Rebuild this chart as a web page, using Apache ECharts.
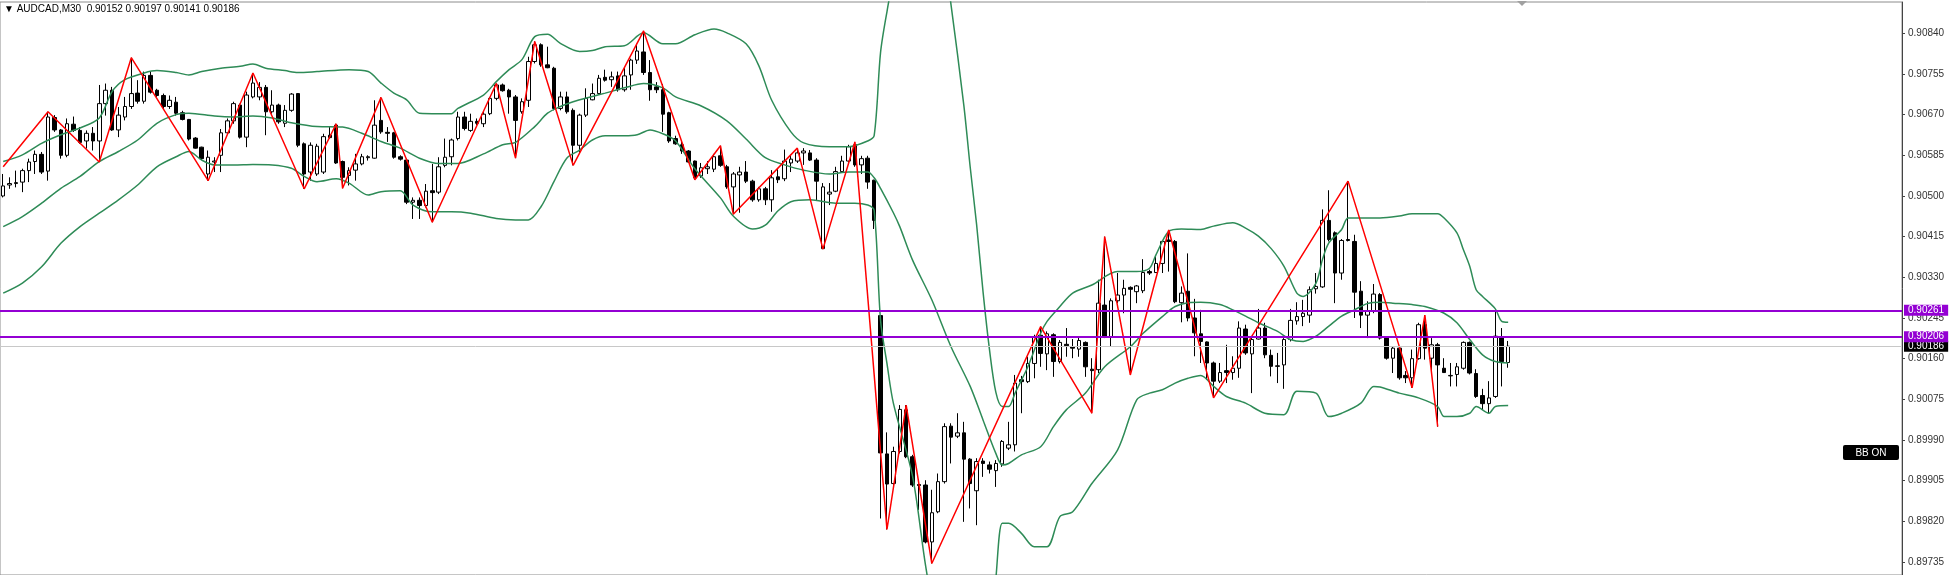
<!DOCTYPE html>
<html><head><meta charset="utf-8">
<script src="https://cdn.jsdelivr.net/npm/echarts@6/dist/echarts.min.js"></script>
<style>html,body{margin:0;padding:0;background:#fff;overflow:hidden}#c{width:1953px;height:575px}</style>
</head><body><div id="c"></div>
<script>
const headerText = '\u25BC AUDCAD,M30  0.90152 0.90197 0.90141 0.90186';
const slotCount = 297;
const categories = Array.from({length: slotCount}, (_, i) => String(i));

const opens = [0.90500,0.90523,0.90526,0.90529,0.90553,0.90572,0.90587,0.90552,0.90664,0.90638,
0.90585,0.90650,0.90637,0.90615,0.90631,0.90615,0.90693,0.90721,0.90638,0.90665,
0.90687,0.90715,0.90698,0.90752,0.90721,0.90710,0.90687,0.90696,0.90674,0.90660,
0.90621,0.90602,0.90546,0.90571,0.90585,0.90632,0.90657,0.90690,0.90623,0.90707,
0.90707,0.90727,0.90676,0.90690,0.90652,0.90679,0.90714,0.90609,0.90550,0.90546,
0.90550,0.90627,0.90648,0.90572,0.90543,0.90554,0.90567,0.90580,0.90579,0.90658,
0.90633,0.90632,0.90582,0.90575,0.90487,0.90491,0.90480,0.90511,0.90508,0.90564,
0.90582,0.90620,0.90665,0.90637,0.90656,0.90651,0.90672,0.90704,0.90732,0.90721,
0.90707,0.90676,0.90700,0.90781,0.90816,0.90774,0.90767,0.90683,0.90707,0.90679,
0.90606,0.90669,0.90701,0.90714,0.90748,0.90743,0.90751,0.90722,0.90753,0.90784,
0.90801,0.90758,0.90728,0.90722,0.90674,0.90620,0.90607,0.90594,0.90573,0.90542,
0.90557,0.90556,0.90584,0.90561,0.90519,0.90544,0.90550,0.90531,0.90492,0.90515,
0.90492,0.90540,0.90536,0.90569,0.90573,0.90590,0.90590,0.90575,0.90390,0.90504,
0.90510,0.90551,0.90573,0.90607,0.90565,0.90579,0.90533,0.90250,0.89961,0.89899,
0.89966,0.90053,0.89955,0.89897,0.89896,0.89777,0.89840,0.89903,0.90019,0.89998,
0.90005,0.89950,0.89884,0.89946,0.89938,0.89926,0.89940,0.89973,0.89980,0.90116,
0.90112,0.90150,0.90209,0.90170,0.90210,0.90154,0.90190,0.90185,0.90180,0.90194,
0.90138,0.90137,0.90272,0.90205,0.90281,0.90293,0.90309,0.90300,0.90302,0.90342,
0.90340,0.90359,0.90408,0.90405,0.90277,0.90301,0.90245,0.90212,0.90195,0.90151,
0.90113,0.90135,0.90131,0.90140,0.90222,0.90170,0.90201,0.90224,0.90167,0.90145,
0.90147,0.90200,0.90239,0.90248,0.90251,0.90306,0.90310,0.90449,0.90423,0.90339,
0.90409,0.90405,0.90301,0.90251,0.90259,0.90294,0.90203,0.90161,0.90182,0.90125,
0.90120,0.90160,0.90231,0.90161,0.90189,0.90140,0.90124,0.90127,0.90140,0.90194,
0.90129,0.90083,0.90066,0.90081,0.90205,0.90152];

const highs = [0.90546,0.90539,0.90553,0.90557,0.90578,0.90595,0.90592,0.90676,0.90669,0.90640,
0.90662,0.90666,0.90644,0.90637,0.90644,0.90732,0.90735,0.90728,0.90686,0.90707,
0.90789,0.90742,0.90760,0.90760,0.90724,0.90714,0.90710,0.90707,0.90678,0.90661,
0.90623,0.90603,0.90595,0.90581,0.90640,0.90662,0.90697,0.90693,0.90718,0.90757,
0.90738,0.90732,0.90721,0.90693,0.90690,0.90715,0.90715,0.90612,0.90612,0.90609,
0.90630,0.90644,0.90651,0.90574,0.90560,0.90588,0.90588,0.90585,0.90700,0.90706,
0.90644,0.90634,0.90585,0.90578,0.90497,0.90497,0.90525,0.90567,0.90581,0.90620,
0.90620,0.90676,0.90676,0.90672,0.90662,0.90676,0.90707,0.90735,0.90735,0.90724,
0.90711,0.90704,0.90791,0.90823,0.90819,0.90812,0.90770,0.90718,0.90718,0.90683,
0.90672,0.90725,0.90735,0.90753,0.90764,0.90760,0.90760,0.90768,0.90787,0.90818,
0.90845,0.90784,0.90738,0.90734,0.90676,0.90626,0.90615,0.90596,0.90574,0.90569,
0.90573,0.90588,0.90605,0.90565,0.90550,0.90561,0.90573,0.90534,0.90519,0.90519,
0.90554,0.90556,0.90597,0.90584,0.90600,0.90600,0.90596,0.90579,0.90527,0.90527,
0.90561,0.90584,0.90607,0.90613,0.90584,0.90584,0.90534,0.90251,0.90006,0.89976,
0.90063,0.90063,0.89959,0.89899,0.89906,0.89886,0.89920,0.90025,0.90025,0.90046,
0.90028,0.89952,0.89952,0.89952,0.89945,0.89948,0.89990,0.90028,0.90126,0.90124,
0.90164,0.90210,0.90227,0.90217,0.90213,0.90199,0.90224,0.90201,0.90205,0.90196,
0.90161,0.90325,0.90415,0.90286,0.90339,0.90325,0.90311,0.90314,0.90368,0.90346,
0.90373,0.90408,0.90429,0.90408,0.90311,0.90380,0.90285,0.90262,0.90196,0.90154,
0.90151,0.90189,0.90165,0.90238,0.90231,0.90207,0.90264,0.90235,0.90179,0.90172,
0.90203,0.90264,0.90278,0.90283,0.90311,0.90339,0.90472,0.90512,0.90426,0.90410,
0.90531,0.90419,0.90322,0.90280,0.90316,0.90297,0.90207,0.90186,0.90186,0.90134,
0.90179,0.90235,0.90251,0.90203,0.90193,0.90161,0.90151,0.90151,0.90196,0.90196,
0.90138,0.90097,0.90113,0.90262,0.90224,0.90197];

const lows = [0.90497,0.90515,0.90518,0.90508,0.90529,0.90546,0.90546,0.90532,0.90634,0.90578,
0.90581,0.90634,0.90609,0.90599,0.90595,0.90571,0.90668,0.90636,0.90623,0.90658,
0.90682,0.90693,0.90693,0.90714,0.90707,0.90682,0.90682,0.90668,0.90658,0.90616,
0.90599,0.90575,0.90532,0.90550,0.90550,0.90630,0.90651,0.90620,0.90602,0.90704,
0.90700,0.90627,0.90672,0.90651,0.90644,0.90676,0.90602,0.90515,0.90532,0.90542,
0.90546,0.90620,0.90567,0.90516,0.90522,0.90532,0.90564,0.90574,0.90578,0.90630,
0.90613,0.90578,0.90574,0.90483,0.90452,0.90452,0.90476,0.90445,0.90504,0.90560,
0.90564,0.90616,0.90637,0.90634,0.90648,0.90644,0.90669,0.90700,0.90718,0.90672,
0.90579,0.90672,0.90686,0.90777,0.90770,0.90767,0.90679,0.90679,0.90672,0.90564,
0.90588,0.90665,0.90700,0.90711,0.90739,0.90728,0.90718,0.90718,0.90722,0.90776,
0.90753,0.90699,0.90715,0.90634,0.90611,0.90607,0.90588,0.90569,0.90534,0.90538,
0.90546,0.90550,0.90561,0.90515,0.90462,0.90465,0.90527,0.90488,0.90488,0.90481,
0.90467,0.90527,0.90531,0.90550,0.90569,0.90565,0.90573,0.90490,0.90389,0.90481,
0.90508,0.90550,0.90569,0.90561,0.90546,0.90515,0.90431,0.89826,0.89803,0.89889,
0.89962,0.89952,0.89892,0.89844,0.89774,0.89732,0.89837,0.89899,0.89941,0.89994,
0.89819,0.89847,0.89812,0.89913,0.89920,0.89892,0.89934,0.89969,0.89966,0.90046,
0.90109,0.90119,0.90143,0.90136,0.90122,0.90150,0.90164,0.90161,0.90164,0.90122,
0.90046,0.90130,0.90203,0.90185,0.90276,0.90255,0.90126,0.90276,0.90297,0.90335,
0.90339,0.90339,0.90342,0.90276,0.90236,0.90238,0.90165,0.90151,0.90116,0.90078,
0.90109,0.90109,0.90116,0.90120,0.90168,0.90088,0.90200,0.90161,0.90123,0.90109,
0.90097,0.90196,0.90231,0.90228,0.90235,0.90296,0.90308,0.90405,0.90276,0.90325,
0.90405,0.90245,0.90224,0.90203,0.90255,0.90200,0.90158,0.90130,0.90116,0.90109,
0.90099,0.90158,0.90158,0.90133,0.90018,0.90130,0.90102,0.90102,0.90137,0.90127,
0.90078,0.90053,0.90046,0.90078,0.90102,0.90141];

const closes = [0.90521,0.90526,0.90528,0.90553,0.90571,0.90587,0.90550,0.90665,0.90638,0.90585,
0.90651,0.90637,0.90612,0.90631,0.90615,0.90693,0.90721,0.90638,0.90669,0.90687,
0.90714,0.90698,0.90752,0.90717,0.90710,0.90687,0.90700,0.90673,0.90660,0.90619,
0.90600,0.90578,0.90581,0.90573,0.90632,0.90657,0.90693,0.90623,0.90711,0.90736,
0.90727,0.90676,0.90690,0.90655,0.90679,0.90713,0.90606,0.90546,0.90606,0.90604,
0.90624,0.90622,0.90569,0.90539,0.90553,0.90567,0.90582,0.90582,0.90648,0.90634,
0.90631,0.90581,0.90577,0.90487,0.90491,0.90480,0.90510,0.90507,0.90561,0.90581,
0.90617,0.90665,0.90641,0.90656,0.90652,0.90671,0.90704,0.90732,0.90720,0.90707,
0.90658,0.90697,0.90781,0.90816,0.90774,0.90768,0.90683,0.90707,0.90676,0.90606,
0.90669,0.90704,0.90714,0.90746,0.90742,0.90749,0.90722,0.90751,0.90784,0.90803,
0.90758,0.90722,0.90722,0.90671,0.90615,0.90609,0.90594,0.90571,0.90538,0.90559,
0.90561,0.90582,0.90564,0.90519,0.90546,0.90550,0.90531,0.90492,0.90515,0.90492,
0.90538,0.90534,0.90573,0.90577,0.90590,0.90594,0.90575,0.90531,0.90519,0.90508,
0.90551,0.90573,0.90603,0.90565,0.90578,0.90529,0.90449,0.89963,0.89898,0.89966,
0.90054,0.89955,0.89896,0.89895,0.89777,0.89838,0.89903,0.90018,0.89996,0.90005,
0.89950,0.89899,0.89945,0.89941,0.89929,0.89941,0.89987,0.89980,0.90109,0.90112,
0.90150,0.90206,0.90171,0.90212,0.90154,0.90194,0.90187,0.90182,0.90198,0.90143,
0.90135,0.90276,0.90205,0.90281,0.90293,0.90307,0.90305,0.90312,0.90340,0.90339,
0.90359,0.90405,0.90405,0.90279,0.90297,0.90245,0.90214,0.90196,0.90151,0.90113,
0.90131,0.90131,0.90140,0.90224,0.90172,0.90200,0.90224,0.90168,0.90144,0.90144,
0.90200,0.90240,0.90248,0.90255,0.90304,0.90311,0.90449,0.90409,0.90339,0.90407,
0.90407,0.90299,0.90251,0.90259,0.90295,0.90203,0.90161,0.90182,0.90120,0.90120,
0.90160,0.90231,0.90182,0.90189,0.90147,0.90131,0.90125,0.90143,0.90194,0.90130,
0.90081,0.90066,0.90078,0.90207,0.90154,0.90186];

// ZigZag pivots: [bar index, price]
const zigzagPivots = [[0,0.90561],[7,0.90676],[15,0.90571],[20,0.90789],[32,0.90532],[39,0.90757],
[47,0.90515],[52,0.90651],[53,0.90516],[59,0.90706],[67,0.90445],[77,0.90735],[80,0.90579],
[83,0.90823],[89,0.90564],[100,0.90845],[108,0.90534],[112,0.90605],[114,0.90462],[124,0.90600],
[128,0.90389],[133,0.90613],[138,0.89803],[141,0.90063],[145,0.89732],[162,0.90227],[170,0.90046],
[172,0.90415],[176,0.90126],[182,0.90429],[189,0.90078],[210,0.90531],[220,0.90099],[222,0.90251],
[224,0.90018]];

// Bollinger band readings: [bar index, price]
const bbUpper = [[0,0.90572],[3,0.90586],[6,0.90610],[9,0.90628],[12,0.90642],[15,0.90663],[17,0.90718],
[19,0.90743],[22,0.90757],[24,0.90762],[27,0.90758],[29,0.90753],[31,0.90760],[34,0.90767],[37,0.90771],
[39,0.90776],[41,0.90767],[44,0.90762],[46,0.90758],[49,0.90760],[54,0.90764],[57,0.90760],[59,0.90736],
[61,0.90715],[63,0.90701],[65,0.90673],[68,0.90672],[70,0.90672],[71,0.90683],[75,0.90711],[77,0.90739],
[79,0.90764],[81,0.90785],[83,0.90833],[85,0.90838],[87,0.90819],[90,0.90802],[92,0.90804],[94,0.90812],
[97,0.90814],[100,0.90841],[103,0.90818],[105,0.90818],[108,0.90837],[111,0.90849],[113,0.90841],
[116,0.90818],[118,0.90772],[120,0.90700],[123,0.90634],[125,0.90611],[129,0.90603],[132,0.90603],
[135,0.90615],[136,0.90626],[137,0.90800],[138,0.90885],[139,0.90950],[141,0.91010],[143,0.91040],
[145,0.91040],[147,0.90990],[148,0.90900],[150,0.90690],[151,0.90560],[152,0.90440],[153,0.90300],
[154,0.90180],[155,0.90090],[156,0.90060],[157,0.90060],[158,0.90088],[160,0.90143],[162,0.90213],
[163,0.90238],[165,0.90269],[167,0.90297],[170,0.90314],[174,0.90342],[177,0.90342],[179,0.90349],
[180,0.90377],[182,0.90426],[184,0.90431],[187,0.90430],[189,0.90437],[192,0.90444],[194,0.90433],
[196,0.90416],[198,0.90390],[200,0.90353],[202,0.90297],[203,0.90290],[205,0.90318],[206,0.90367],
[207,0.90402],[209,0.90430],[210,0.90454],[212,0.90454],[215,0.90454],[218,0.90458],[220,0.90463],
[224,0.90463],[225,0.90454],[227,0.90423],[228,0.90388],[229,0.90353],[230,0.90304],[231,0.90290],
[233,0.90264],[234,0.90238],[235,0.90236]];

const bbMiddle = [[0,0.90436],[3,0.90457],[6,0.90485],[9,0.90516],[12,0.90541],[15,0.90572],[18,0.90593],
[21,0.90617],[24,0.90652],[27,0.90670],[29,0.90673],[33,0.90667],[36,0.90665],[39,0.90667],[42,0.90663],
[45,0.90653],[49,0.90645],[53,0.90644],[56,0.90631],[59,0.90614],[62,0.90600],[65,0.90579],[68,0.90568],
[71,0.90568],[75,0.90588],[78,0.90607],[80,0.90612],[83,0.90645],[85,0.90673],[87,0.90687],[89,0.90697],
[92,0.90708],[94,0.90715],[97,0.90726],[100,0.90735],[103,0.90726],[105,0.90707],[109,0.90688],
[113,0.90657],[116,0.90619],[119,0.90580],[122,0.90565],[125,0.90554],[129,0.90546],[132,0.90550],
[135,0.90550],[136,0.90538],[137,0.90516],[139,0.90465],[140,0.90436],[142,0.90366],[145,0.90283],
[148,0.90185],[151,0.90102],[153,0.90032],[155,0.89962],[156,0.89938],[157,0.89941],[159,0.89959],
[162,0.89976],[164,0.90018],[166,0.90053],[169,0.90088],[172,0.90143],[176,0.90185],[178,0.90213],
[181,0.90248],[183,0.90269],[185,0.90277],[187,0.90278],[190,0.90273],[192,0.90262],[194,0.90249],
[196,0.90235],[199,0.90217],[201,0.90200],[203,0.90196],[205,0.90207],[207,0.90228],[209,0.90249],
[211,0.90262],[213,0.90275],[215,0.90278],[217,0.90276],[220,0.90273],[222,0.90269],[225,0.90255],
[227,0.90235],[229,0.90200],[231,0.90168],[233,0.90154],[235,0.90151]];

const bbLower = [[0,0.90297],[3,0.90318],[6,0.90352],[9,0.90401],[12,0.90436],[15,0.90464],[18,0.90492],
[21,0.90523],[24,0.90561],[27,0.90582],[29,0.90593],[31,0.90575],[33,0.90565],[36,0.90565],[39,0.90566],
[42,0.90565],[45,0.90558],[47,0.90541],[49,0.90530],[52,0.90536],[54,0.90527],[57,0.90502],[59,0.90509],
[62,0.90511],[64,0.90481],[67,0.90467],[70,0.90467],[73,0.90464],[77,0.90453],[80,0.90450],[82,0.90450],
[84,0.90478],[86,0.90530],[88,0.90579],[90,0.90596],[92,0.90617],[94,0.90626],[97,0.90626],[99,0.90628],
[101,0.90638],[103,0.90630],[105,0.90615],[108,0.90557],[112,0.90496],[114,0.90458],[117,0.90431],
[119,0.90439],[121,0.90469],[123,0.90488],[126,0.90492],[130,0.90485],[133,0.90485],[135,0.90481],
[136,0.90470],[137,0.90240],[138,0.90150],[139,0.90067],[142,0.89914],[144,0.89730],[146,0.89580],
[148,0.89480],[150,0.89430],[152,0.89450],[154,0.89560],[155,0.89700],[156,0.89816],[157,0.89816],
[159,0.89795],[161,0.89767],[163,0.89767],[165,0.89830],[167,0.89840],[170,0.89899],[174,0.89969],
[177,0.90074],[179,0.90088],[181,0.90095],[183,0.90109],[185,0.90119],[187,0.90125],[189,0.90102],
[191,0.90081],[194,0.90067],[197,0.90046],[200,0.90043],[202,0.90092],[205,0.90088],[207,0.90039],
[209,0.90046],[212,0.90067],[214,0.90102],[215,0.90101],[218,0.90088],[221,0.90078],[224,0.90060],
[225,0.90039],[227,0.90039],[229,0.90046],[230,0.90060],[232,0.90046],[233,0.90060],[235,0.90062]];

const priceTicks = [0.89735,0.89820,0.89905,0.89990,0.90075,0.90160,0.90245,0.90330,0.90415,0.90500,0.90585,0.90670,0.90755,0.90840];
const levelLines = [0.90261, 0.90206];
const bidPrice = 0.90186;
const yMin = 0.897079, yMax = 0.909054;

const candleData = opens.map((o, i) => [o, closes[i], lows[i], highs[i]]);
const FONT = 'Liberation Sans';

const chart = echarts.init(document.getElementById('c'), null, {renderer: 'canvas'});
const levelLabel = (bg) => ({
  show: true, position: 'end', distance: 2,
  formatter: p => Number(p.value).toFixed(5),
  backgroundColor: bg, color: '#fff', fontFamily: FONT, fontSize: 10,
  padding: [1, 4, 0, 4], lineHeight: 10
});
chart.setOption({
  animation: false,
  backgroundColor: '#ffffff',
  grid: {left: 0, right: 51, top: 2, bottom: 0, show: true, borderColor: '#8c8c8c', borderWidth: 1, backgroundColor: 'transparent'},
  xAxis: {type: 'category', data: categories, boundaryGap: true,
    axisLine: {show: false}, axisTick: {show: false}, axisLabel: {show: false}, splitLine: {show: false}},
  yAxis: {type: 'value', position: 'right', min: yMin, max: yMax, scale: true,
    axisLine: {show: true, lineStyle: {color: '#444', width: 1}},
    axisTick: {show: true, length: 3, inside: false, lineStyle: {color: '#444'}, customValues: priceTicks},
    axisLabel: {show: true, customValues: priceTicks, formatter: v => v.toFixed(5), color: '#333',
      fontFamily: FONT, fontSize: 10, margin: 6},
    splitLine: {show: false}},
  graphic: [
    {type: 'text', left: 4, top: 4, style: {text: headerText, font: '10px "Liberation Sans"', fill: '#000'}, z: 100},
    {type: 'group', left: 1843, top: 445, z: 100, children: [
      {type: 'rect', shape: {x: 0, y: 0, width: 56, height: 15, r: 2}, style: {fill: '#000'}},
      {type: 'text', style: {x: 28, y: 8, text: 'BB ON', font: '10px "Liberation Sans"', fill: '#fff', align: 'center', verticalAlign: 'middle'}}
    ]},
    {type: 'polygon', z: 100, shape: {points: [[1517, 1], [1527, 1], [1522, 6]]}, style: {fill: '#a0a0a0'}}
  ],
  series: [
    {type: 'candlestick', data: candleData, barWidth: 4, z: 2,
      itemStyle: {color: '#ffffff', color0: '#000000', borderColor: '#000000', borderColor0: '#000000', borderWidth: 1},
      emphasis: {disabled: true},
      markLine: {silent: true, symbol: ['none', 'none'], animation: false, precision: 5, z: 10,
        data: [
          {yAxis: bidPrice, lineStyle: {color: '#c8c8c8', width: 1, type: 'solid'}, label: levelLabel('#000')},
          {yAxis: levelLines[0], lineStyle: {color: '#9400d3', width: 2, type: 'solid'}, label: levelLabel('#9400d3')},
          {yAxis: levelLines[1], lineStyle: {color: '#9400d3', width: 2, type: 'solid'}, label: levelLabel('#9400d3')}
        ]}
    },
    {type: 'line', data: bbUpper, smooth: 0.3, symbol: 'none', z: 3, lineStyle: {color: '#2e8b57', width: 1.5}, emphasis: {disabled: true}},
    {type: 'line', data: bbMiddle, smooth: 0.3, symbol: 'none', z: 3, lineStyle: {color: '#2e8b57', width: 1.5}, emphasis: {disabled: true}},
    {type: 'line', data: bbLower, smooth: 0.3, symbol: 'none', z: 3, lineStyle: {color: '#2e8b57', width: 1.5}, emphasis: {disabled: true}},
    {type: 'line', data: zigzagPivots, symbol: 'none', z: 4, lineStyle: {color: '#ff0000', width: 1.5}, emphasis: {disabled: true}}
  ]
});
</script>
</body></html>
